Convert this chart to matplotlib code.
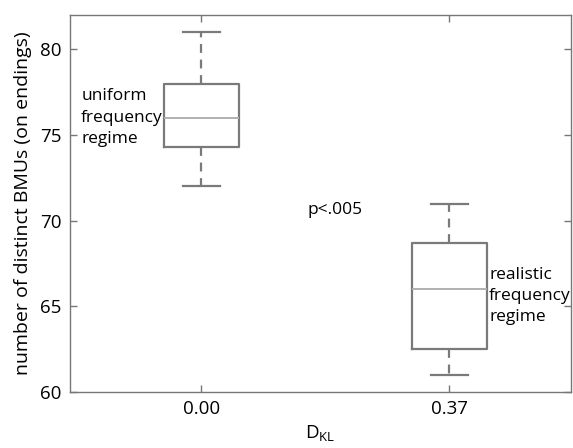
import numpy as np
import matplotlib.pyplot as plt

# data
labels = ["0.00", "0.37"]
q1 = [74.3, 62.5]
med = [76.0, 66.0]
q3 = [78.0, 68.7]
whislo = [72.0, 61.0]
whishi = [81.0, 71.0]

stats = []
for i in range(len(labels)):
    stats.append(dict(label=labels[i], q1=q1[i], med=med[i], q3=q3[i],
                      whislo=whislo[i], whishi=whishi[i], fliers=[]))

plt.rcParams['font.family'] = ['Open Sans', 'DejaVu Sans']

fig = plt.figure(figsize=(5.73, 4.48), dpi=100)
ax = fig.add_axes([70/573, 1 - 392/448, 501/573, 377/448])

box_col = "#7a7a7a"
ax.bxp(stats, positions=[1, 2], widths=0.3, showfliers=False,
       boxprops=dict(color=box_col, linewidth=1.6),
       medianprops=dict(color="#b0b0b0", linewidth=1.4),
       whiskerprops=dict(color=box_col, linewidth=1.6, linestyle=(0, (4, 3))),
       capprops=dict(color=box_col, linewidth=1.6))

ax.set_xlim(0.47, 2.49)
ax.set_ylim(60, 82)
ax.set_yticks([60, 65, 70, 75, 80])
ax.set_xticks([1, 2])
ax.set_xticklabels(labels)
ax.tick_params(direction='in', top=True, right=True, labelsize=13.5,
               color="#777777", length=5, width=1, pad=6)
for s in ax.spines.values():
    s.set_color("#777777")
    s.set_linewidth(1)

ax.set_ylabel("number of distinct BMUs (on endings)", fontsize=14, labelpad=6)
ax.set_xlabel("D$_{\\mathregular{KL}}$", fontsize=13.5, labelpad=4)

ax.text(0.515, 76.0, "uniform\nfrequency\nregime", fontsize=12.5, va='center',
        ha='left', linespacing=1.45)
ax.text(2.16, 65.6, "realistic\nfrequency\nregime", fontsize=12.5, va='center',
        ha='left', linespacing=1.45)
ax.text(1.54, 70.6, "p<.005", fontsize=12.5, ha='center', va='center')

fig.savefig("out.png", dpi=100)
